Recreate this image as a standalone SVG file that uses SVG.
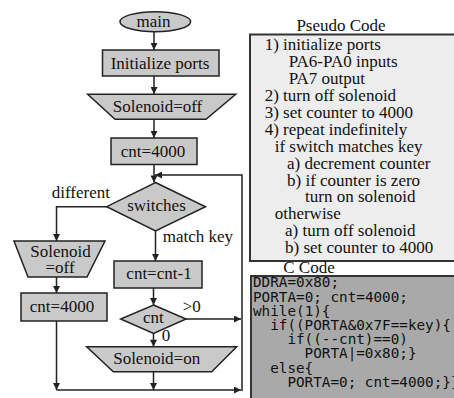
<svg xmlns="http://www.w3.org/2000/svg" width="454" height="398" viewBox="0 0 454 398">
<defs>
<marker id="ah" viewBox="0 0 10 10" refX="10" refY="5" markerWidth="8" markerHeight="7" markerUnits="userSpaceOnUse" orient="auto"><path d="M0,0 L10,5 L0,10 z" fill="#222"/></marker>
<style>
.shape{fill:#c9c9c9;stroke:#222;stroke-width:1.5}
.t{font-family:'Liberation Serif','Times New Roman','DejaVu Serif',serif;font-size:17px;fill:#111}
.c{text-anchor:middle}
.con{fill:none;stroke:#222;stroke-width:1.5}
.arr{marker-end:url(#ah)}
.code{font-family:'DejaVu Sans Mono',monospace;font-size:14.3px;fill:#111}
</style>
</defs>
<rect width="454" height="398" fill="#fff"/>

<g id="connectors">
<path class="con arr" d="M154,32 V50"/>
<path class="con arr" d="M154,76 V94"/>
<path class="con arr" d="M154,119.3 V138"/>
<path class="con arr" d="M154,164.5 V182.5"/>
<path class="con arr" d="M106.7,206.7 H56.5 V241"/>
<path class="con arr" d="M155.5,231 V261"/>
<path class="con arr" d="M56.5,277 V293"/>
<path class="con arr" d="M56.5,321 V390"/>
<path class="con arr" d="M153.5,288 V305"/>
<path class="con arr" d="M153.5,333.5 V346.7"/>
<path class="con arr" d="M153.5,371.7 V390"/>
<path class="con arr" d="M186,319 H241"/>
<path class="con arr" d="M56.5,390 H241"/>
<path class="con arr" d="M242,391 V175 H155"/>
<g font-family="Liberation Serif, Times New Roman, DejaVu Serif, serif">
<text class="t" x="51.7" y="198.3">different</text>
<text class="t" x="162.7" y="241.5">match key</text>
<text class="t" x="182.7" y="311.7">&gt;0</text>
<text class="t" x="161.7" y="340.7">0</text>
</g>
</g>

<g font-family="Liberation Serif, Times New Roman, DejaVu Serif, serif">
<g id="main">
<ellipse class="shape" cx="155.3" cy="21.7" rx="35.3" ry="10"/>
<text class="t c" x="153.5" y="26.5">main</text>
</g>
<g id="init">
<rect class="shape" x="102.5" y="50" width="116.5" height="26"/>
<text class="t c" x="160" y="68.5">Initialize ports</text>
</g>
<g id="sol-off">
<polygon class="shape" points="87.7,94.3 235.7,94.3 206,119.3 115,119.3"/>
<text class="t c" x="157.5" y="111.7">Solenoid=off</text>
</g>
<g id="cnt-init">
<rect class="shape" x="111" y="138" width="86" height="26.5"/>
<text class="t c" x="153" y="156.7">cnt=4000</text>
</g>
<g id="switches">
<polygon class="shape" points="155.5,182.5 205.5,206.7 155.5,231 106.7,206.7"/>
<text class="t c" x="156.5" y="210.5">switches</text>
</g>
<g id="sol-off2">
<polygon class="shape" points="14,241 105,241 87,277 28,277"/>
<text class="t c" x="60.5" y="257">Solenoid</text>
<text class="t c" x="60" y="273">=off</text>
</g>
<g id="cnt-reset">
<rect class="shape" x="21" y="293" width="86" height="28"/>
<text class="t c" x="62" y="311.7">cnt=4000</text>
</g>
<g id="dec">
<rect class="shape" x="114" y="261" width="88" height="27"/>
<text class="t c" x="159" y="279.3">cnt=cnt-1</text>
</g>
<g id="cnt-test">
<polygon class="shape" points="153.5,305 186,319 153.5,333.5 120.7,319"/>
<text class="t c" x="153.3" y="323.3">cnt</text>
</g>
<g id="sol-on">
<polygon class="shape" points="86.7,346.7 236.7,346.7 211.7,371.7 113.3,371.7"/>
<text class="t c" x="156.7" y="364">Solenoid=on</text>
</g>

<g id="pseudo">
<text class="t c" x="341" y="31">Pseudo Code</text>
<rect x="250" y="34.5" width="210" height="226.5" fill="#ededed" stroke="#333" stroke-width="2"/>
<text class="t" x="264.7" y="50.3">1) initialize ports</text>
<text class="t" x="288.7" y="67.2">PA6-PA0 inputs</text>
<text class="t" x="288.7" y="84.1">PA7 output</text>
<text class="t" x="264.7" y="101">2) turn off solenoid</text>
<text class="t" x="264.7" y="117.9">3) set counter to 4000</text>
<text class="t" x="264.7" y="134.8">4) repeat indefinitely</text>
<text class="t" x="274.7" y="151.7">if switch matches key</text>
<text class="t" x="287" y="168.6">a) decrement counter</text>
<text class="t" x="287" y="185.5">b) if counter is zero</text>
<text class="t" x="305" y="202.4">turn on solenoid</text>
<text class="t" x="274.7" y="219.3">otherwise</text>
<text class="t" x="285" y="236.2">a) turn off solenoid</text>
<text class="t" x="285" y="253.1">b) set counter to 4000</text>
</g>

<g id="ccode">
<text class="t c" x="309" y="273">C Code</text>
<rect x="251" y="276" width="210" height="130" fill="#a9a9a9" stroke="#333" stroke-width="2"/>
<text class="code" x="253" y="287.3">DDRA=0x80;</text>
<text class="code" x="253" y="301.5">PORTA=0; cnt=4000;</text>
<text class="code" x="253" y="315.7">while(1){</text>
<text class="code" x="270.2" y="329.9">if((PORTA&amp;0x7F==key){</text>
<text class="code" x="287.4" y="344.1">if((--cnt)==0)</text>
<text class="code" x="304.6" y="358.3">PORTA|=0x80;}</text>
<text class="code" x="270.2" y="372.5">else{</text>
<text class="code" x="287.4" y="386.7">PORTA=0; cnt=4000;}}</text>
</g>
</g>
</svg>
